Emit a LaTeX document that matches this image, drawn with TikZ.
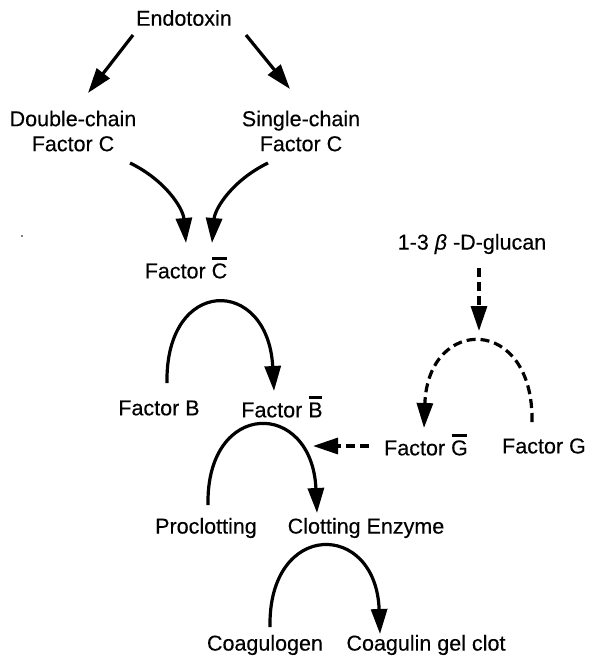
\documentclass[tikz,border=0pt]{standalone}
\usepackage{fontspec}
\setmainfont{Liberation Sans}[FakeBold=0.3]
\usetikzlibrary{arrows.meta}
\tikzset{
  lbl/.style={inner sep=0pt, align=center, font=\fontsize{21.5}{25}\selectfont},
  tip/.style={-{Triangle[length=25pt,width=16pt]}},
  arr/.style={line width=3.2pt, tip},
  darr/.style={line width=3.2pt, dash pattern=on 9pt off 5pt, tip},
}
\newsavebox{\barbox}
\newcommand{\barred}[1]{\sbox{\barbox}{#1}\rlap{\hbox to\wd\barbox{\hss\rule[0.87em]{0.95\wd\barbox}{0.1em}\hss}}\usebox{\barbox}}
\begin{document}
\begin{tikzpicture}[x=1pt,y=-1pt]
\useasboundingbox (0,0) rectangle (590,662);
% nodes
\node[lbl] (endo) at (184,18) {Endotoxin};
\node[lbl] (dcf) at (73,131) {Double-chain\\Factor C};
\node[lbl] (scf) at (301,131) {Single-chain\\Factor C};
\node[lbl] (fcb) at (186,268) {Factor \barred{C}};
\node[lbl] (glu) at (472,244) {1-3 \textit{β} -D-glucan};
\node[lbl] (fb) at (159,408) {Factor B};
\node[lbl] (fbb) at (282,407) {Factor \barred{B}};
\node[lbl] (fgb) at (426,445) {Factor \barred{G}};
\node[lbl] (fg) at (544,446) {Factor G};
\node[lbl] (pro) at (206,528) {Proclotting};
\node[lbl] (ce) at (366,528) {Clotting Enzyme};
\node[lbl] (coag) at (265,645) {Coagulogen};
\node[lbl] (gel) at (426,645) {Coagulin gel clot};
% coordinates
\coordinate (e1) at (133,35);   \coordinate (d1) at (88,93);
\coordinate (e2) at (246,35);   \coordinate (s1) at (290,89);
\coordinate (d2) at (130,163);  \coordinate (c1) at (186,243);
\coordinate (s2) at (268,163);  \coordinate (c2) at (212,243);
\coordinate (b1) at (167,383);  \coordinate (bb1) at (274,391);
\coordinate (p1) at (208,505);  \coordinate (ce1) at (317,513);
\coordinate (co1) at (270,627); \coordinate (ge1) at (380,634);
\coordinate (g1) at (479,268);  \coordinate (top) at (479,331);
\coordinate (fg1) at (532,422); \coordinate (fgb1) at (424,428);
\coordinate (fgb2) at (369,446); \coordinate (tipl) at (313,446);
% connectors
\draw[arr] (e1) -- (d1);
\draw[arr] (e2) -- (s1);
\draw[arr] (d2) .. controls (165,180) and (183,208) .. (c1);
\draw[arr] (s2) .. controls (233,180) and (215,208) .. (c2);
\draw[arr] (b1) .. controls (165,276) and (268,276) .. (bb1);
\draw[arr] (p1) .. controls (206,399) and (312,399) .. (ce1);
\draw[arr] (co1) .. controls (268,520) and (376,520) .. (ge1);
\draw[darr] (g1) -- (top);
\draw[darr] (fg1) .. controls (534,315) and (428,315) .. (fgb1);
\draw[darr] (fgb2) -- (tipl);
\fill (22,236) circle (0.9pt);
\end{tikzpicture}
\end{document}
